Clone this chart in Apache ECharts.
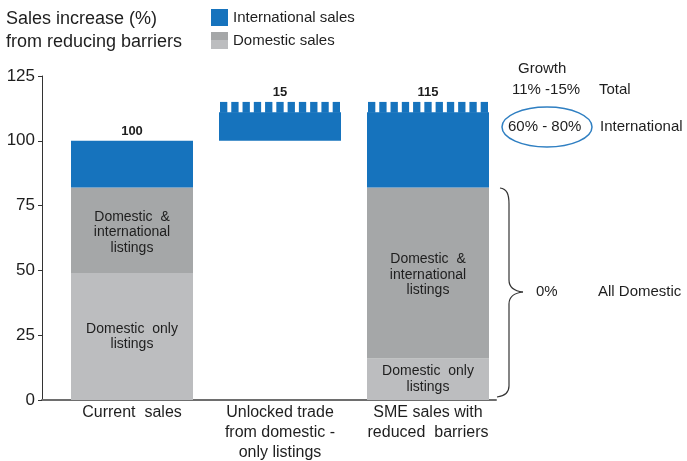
<!DOCTYPE html>
<html>
<head>
<meta charset="utf-8">
<script src="https://cdn.jsdelivr.net/npm/echarts@6/dist/echarts.min.js"></script>
<style>html,body{margin:0;padding:0;background:#fff}#c{width:687px;height:461px}</style>
</head>
<body>
<div id="c"></div>
<script>
// ---- data ----
const categories = ['Current  sales', 'Unlocked trade\nfrom domestic -\nonly listings', 'SME sales with\nreduced  barriers'];
const baseValues = [0, 100, 0];            // invisible offset for the "unlocked" bar
const domesticOnly = [49, '-', 16];
const domesticIntl = [33, '-', 66];
const international = [18, 11, 29];
const totals = [100, 15, 115];
const yTicks = [0, 25, 50, 75, 100, 125];

// ---- styles ----
const BLUE = '#1673BD', DGRAY = '#A5A7A8', LGRAY = '#BCBDBF', TXT = '#1e1e1e';
const FONT = '"Liberation Sans", Arial, Helvetica, sans-serif';
const BAR_RATIO = 122 / 148;

const num = v => (v === '-' ? 0 : v);
const stackTop = categories.map((c, i) => baseValues[i] + num(domesticOnly[i]) + num(domesticIntl[i]) + num(international[i]));
const topData = categories.map((c, i) => [i, stackTop[i], baseValues[i] + totals[i], totals[i]]);

const domIcon = 'image://data:image/svg+xml;charset=utf-8,' + encodeURIComponent(
  '<svg xmlns="http://www.w3.org/2000/svg" width="17" height="17"><rect width="17" height="8" fill="' + DGRAY + '"/><rect y="8" width="17" height="9" fill="' + LGRAY + '"/></svg>');

const braceStyle = {fill: 'none', stroke: '#333', lineWidth: 1.2};
const chart = echarts.init(document.getElementById('c'), null, {renderer: 'canvas'});
chart.setOption({
  animation: false,
  backgroundColor: '#fff',
  textStyle: {fontFamily: FONT},
  title: {
    text: 'Sales increase (%)\nfrom reducing barriers',
    left: 1, top: 3,
    textStyle: {fontFamily: FONT, fontSize: 18, fontWeight: 'normal', color: TXT, lineHeight: 23}
  },
  legend: {
    orient: 'vertical', left: 206, top: 4, itemWidth: 17, itemHeight: 17, itemGap: 6,
    textStyle: {fontFamily: FONT, fontSize: 15, color: TXT},
    data: [{name: 'International sales', icon: 'rect'}, {name: 'Domestic sales', icon: domIcon}]
  },
  grid: [
    {left: 58, right: 185, top: 76, bottom: 61, outerBoundsMode: 'none', containLabel: false},
    {left: 42, right: 191, top: 76, bottom: 61, outerBoundsMode: 'none', containLabel: false}
  ],
  xAxis: [
    {type: 'category', gridIndex: 0, data: categories,
     axisLine: {show: false}, axisTick: {show: false},
     axisLabel: {fontFamily: FONT, fontSize: 16, color: TXT, lineHeight: 20.3, margin: 2, interval: 0}},
    {type: 'value', gridIndex: 1, min: 0, max: 1,
     axisLine: {show: true, lineStyle: {color: '#6e6e6e', width: 2}},
     axisTick: {show: false}, axisLabel: {show: false}, splitLine: {show: false}}
  ],
  yAxis: [
    {type: 'value', gridIndex: 0, min: 0, max: 125, interval: 25, show: false, splitLine: {show: false}},
    {type: 'value', gridIndex: 1, min: yTicks[0], max: yTicks[yTicks.length - 1], interval: 25,
     axisLine: {show: true, lineStyle: {color: '#333', width: 1}},
     axisTick: {show: true, length: 4, lineStyle: {color: '#333'}},
     axisLabel: {fontFamily: FONT, fontSize: 17, color: TXT, margin: 7},
     splitLine: {show: false}}
  ],
  series: [
    {name: 'base', type: 'bar', stack: 's', barWidth: (BAR_RATIO * 100) + '%', silent: true,
     itemStyle: {color: 'transparent'}, data: baseValues},
    {name: 'Domestic sales', type: 'bar', stack: 's', barWidth: (BAR_RATIO * 100) + '%',
     itemStyle: {color: LGRAY}, data: domesticOnly,
     label: {show: true, position: 'inside', formatter: 'Domestic  only\nlistings',
             fontFamily: FONT, fontSize: 14, color: TXT, lineHeight: 15.5}},
    {name: 'Domestic & international listings', type: 'bar', stack: 's', barWidth: (BAR_RATIO * 100) + '%',
     itemStyle: {color: DGRAY}, data: domesticIntl,
     label: {show: true, position: 'inside', formatter: 'Domestic  &\ninternational\nlistings',
             fontFamily: FONT, fontSize: 14, color: TXT, lineHeight: 15.5, offset: [0, 2]}},
    {name: 'International sales', type: 'bar', stack: 's', barWidth: (BAR_RATIO * 100) + '%',
     itemStyle: {color: BLUE}, data: international},
    {name: 'tops', type: 'custom', xAxisIndex: 0, yAxisIndex: 0, z: 5, silent: true,
     encode: {x: 0, y: [1, 2]},
     data: topData,
     renderItem: function (params, api) {
       const x = api.value(0), lo = api.value(1), hi = api.value(2), total = api.value(3);
       const pLo = api.coord([x, lo]), pHi = api.coord([x, hi]);
       const w = api.size([1, 0])[0] * BAR_RATIO;
       const left = pLo[0] - w / 2;
       const children = [];
       if (hi > lo) {
         const n = 11, toothW = w * 0.06;
         const period = (w - 2 - toothW) / (n - 1);
         for (let k = 0; k < n; k++) {
           children.push({type: 'rect',
             shape: {x: left + 1 + k * period, y: pHi[1], width: toothW, height: pLo[1] - pHi[1] + 0.5},
             style: {fill: BLUE}});
         }
       }
       children.push({type: 'text',
         style: {text: String(total), x: pLo[0], y: pHi[1] - 3, textAlign: 'center', textVerticalAlign: 'bottom',
                 font: 'bold 13px ' + FONT, fill: TXT}});
       return {type: 'group', children: children};
     }}
  ],
  graphic: [
    {type: 'text', left: 518, top: 61, style: {text: 'Growth', font: '15px ' + FONT, fill: TXT}},
    {type: 'text', left: 512, top: 82, style: {text: '11% -15%', font: '15px ' + FONT, fill: TXT}},
    {type: 'text', left: 599, top: 82, style: {text: 'Total', font: '15px ' + FONT, fill: TXT}},
    {type: 'text', left: 508, top: 119, style: {text: '60% - 80%', font: '15px ' + FONT, fill: TXT}},
    {type: 'text', left: 600, top: 119, style: {text: 'International', font: '15px ' + FONT, fill: TXT}},
    {type: 'ellipse', shape: {cx: 547, cy: 127, rx: 45, ry: 20}, style: {fill: 'none', stroke: '#2f7fc2', lineWidth: 1.5}},
    {type: 'text', left: 536, top: 284, style: {text: '0%', font: '15px ' + FONT, fill: TXT}},
    {type: 'text', left: 598, top: 284, style: {text: 'All Domestic', font: '15px ' + FONT, fill: TXT}},
    {type: 'bezierCurve', shape: {x1: 500, y1: 188, cpx1: 507, cpy1: 189, cpx2: 509, cpy2: 194, x2: 509, y2: 204}, style: braceStyle},
    {type: 'line', shape: {x1: 509, y1: 204, x2: 509, y2: 280}, style: braceStyle},
    {type: 'bezierCurve', shape: {x1: 509, y1: 280, cpx1: 509, cpy1: 287, cpx2: 514, cpy2: 291, x2: 523, y2: 292}, style: braceStyle},
    {type: 'bezierCurve', shape: {x1: 523, y1: 292, cpx1: 514, cpy1: 293, cpx2: 509, cpy2: 297, x2: 509, y2: 304}, style: braceStyle},
    {type: 'line', shape: {x1: 509, y1: 304, x2: 509, y2: 386}, style: braceStyle},
    {type: 'bezierCurve', shape: {x1: 509, y1: 386, cpx1: 509, cpy1: 393, cpx2: 505, cpy2: 396, x2: 497, y2: 397}, style: braceStyle}
  ]
});
</script>
</body>
</html>
